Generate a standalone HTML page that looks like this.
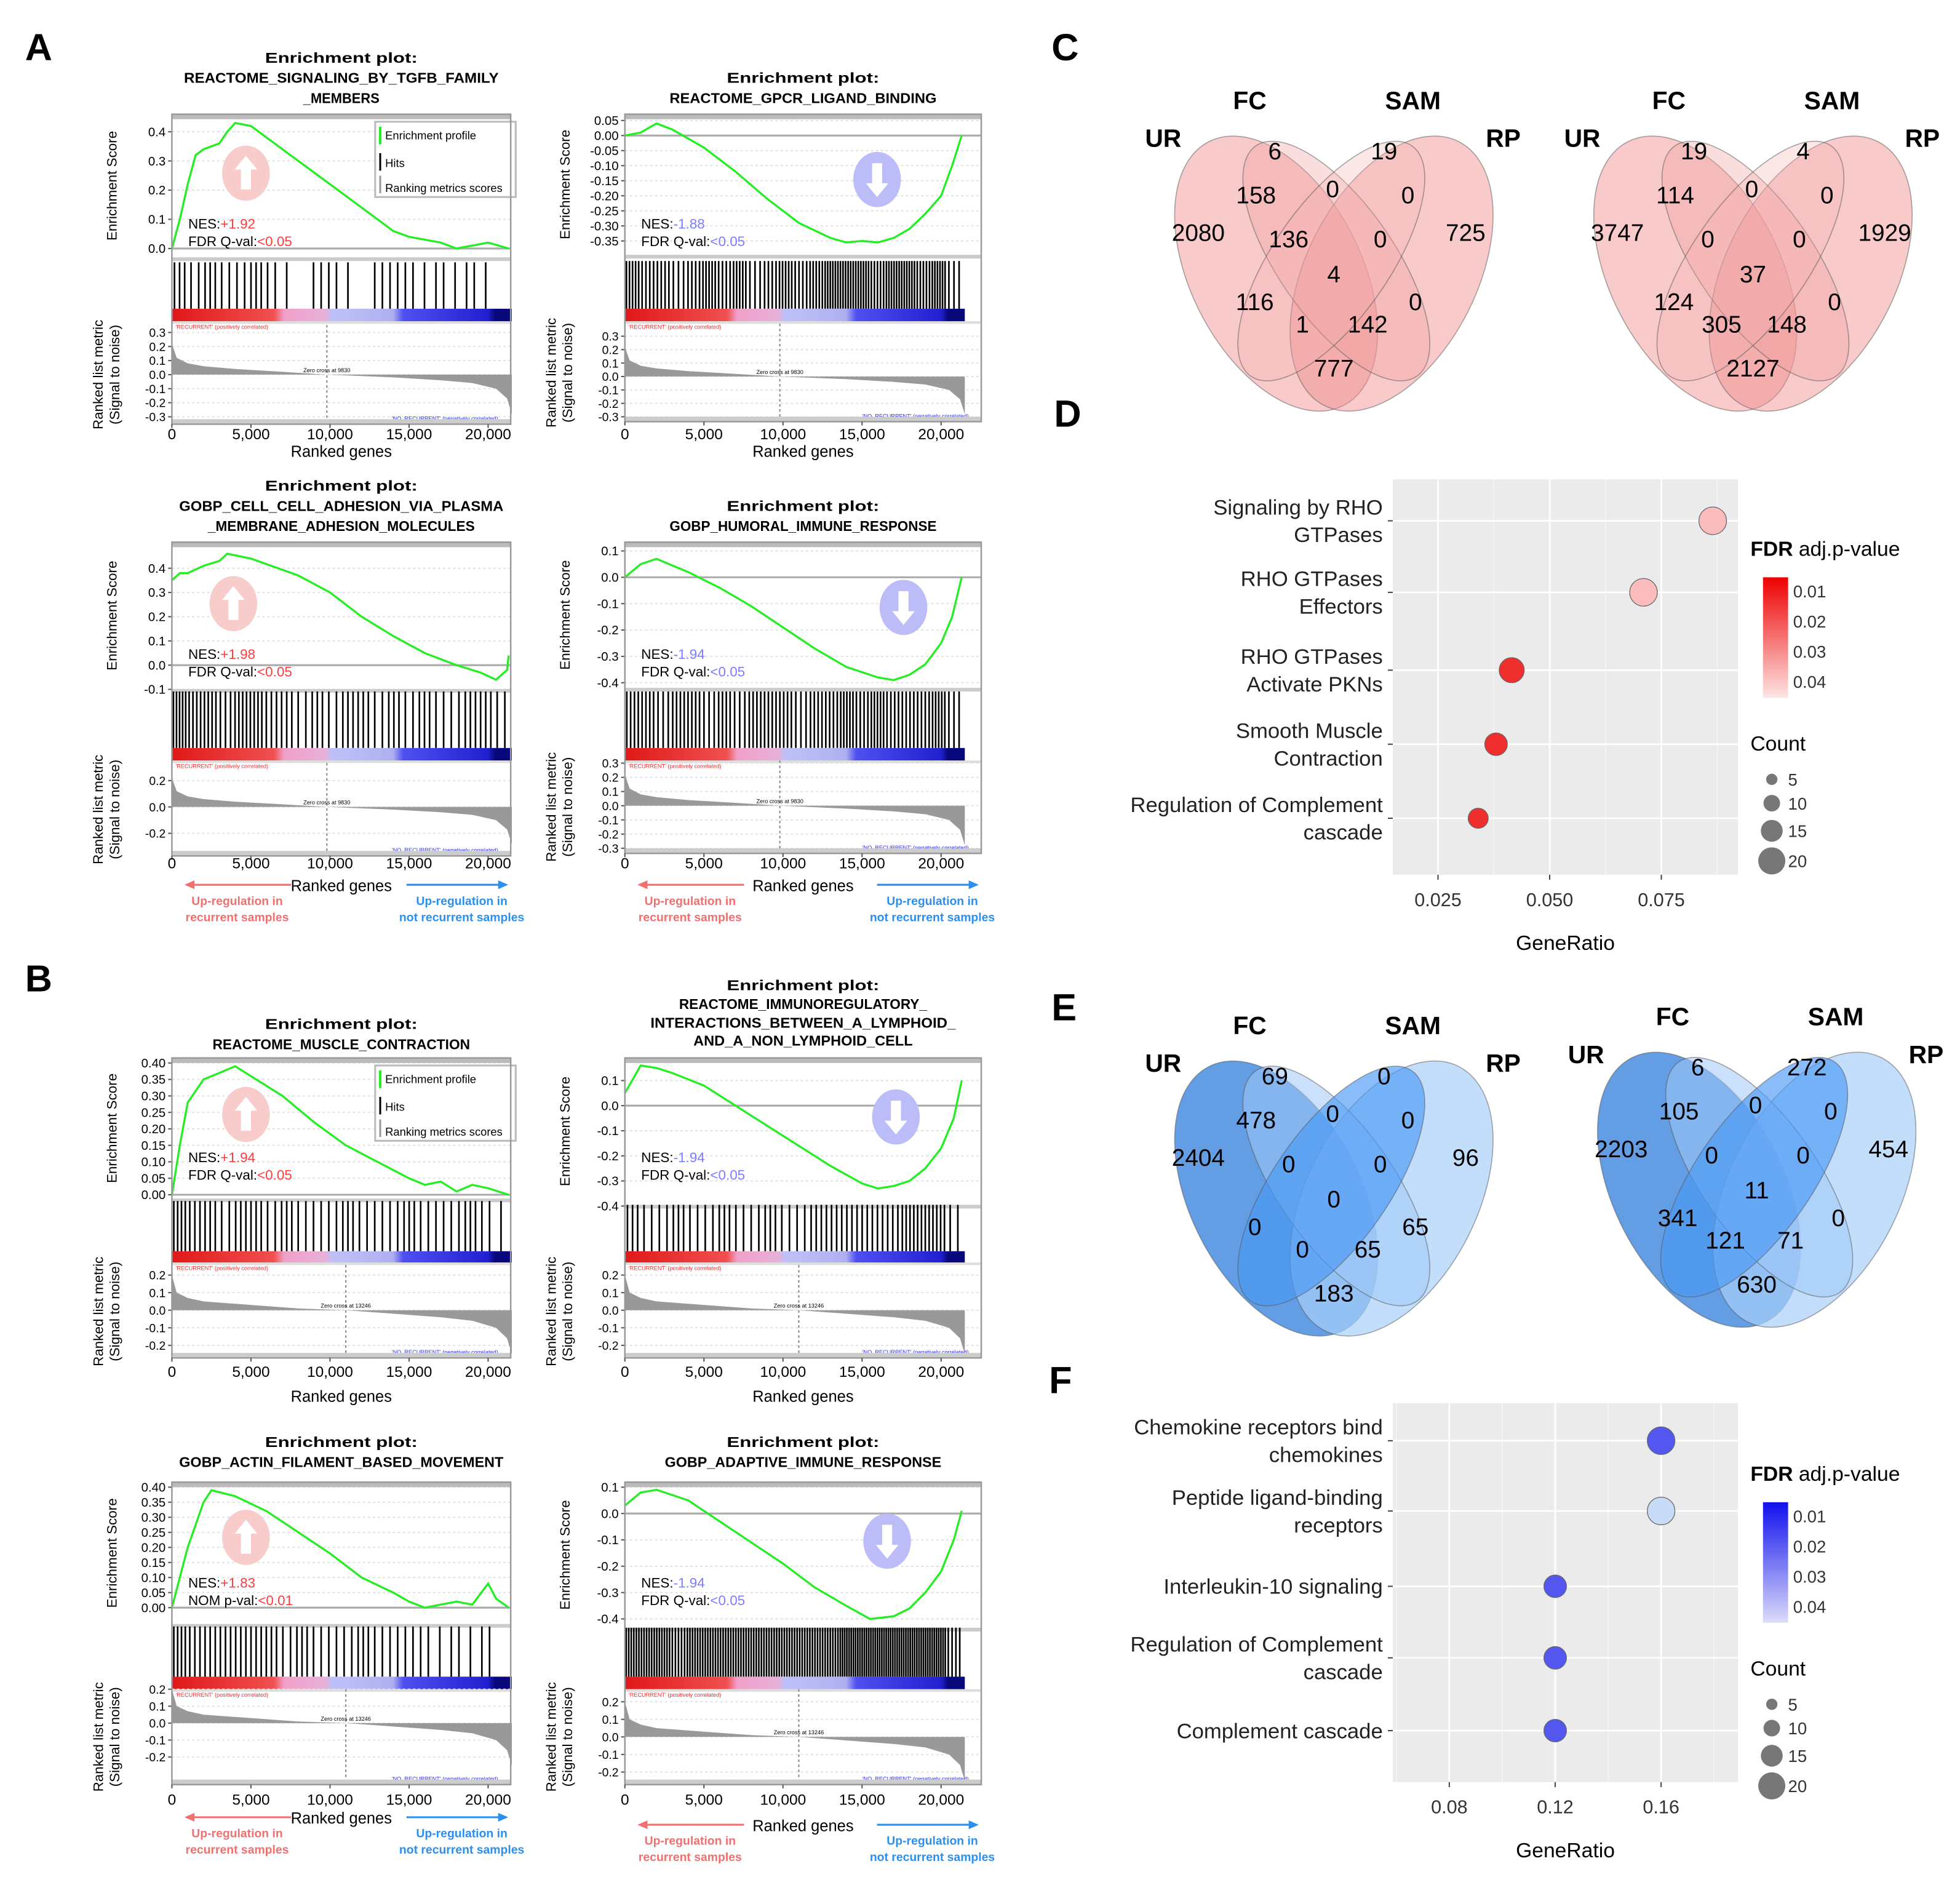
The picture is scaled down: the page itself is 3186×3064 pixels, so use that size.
<!DOCTYPE html>
<html><head><meta charset="utf-8"><style>
html,body{margin:0;padding:0;background:#fff;}
svg{display:block;font-family:"Liberation Sans",sans-serif;}
</style></head><body>
<svg id="fig" xmlns="http://www.w3.org/2000/svg" width="3186" height="3064" viewBox="0 0 1562 1502" preserveAspectRatio="none">
<defs>
<linearGradient id="cbar" x1="0" x2="1" y1="0" y2="0">
<stop offset="0" stop-color="#e01818"/><stop offset="0.3" stop-color="#f05050"/><stop offset="0.33" stop-color="#f0a0c8"/><stop offset="0.45" stop-color="#e8b0d8"/><stop offset="0.47" stop-color="#c0c0f8"/><stop offset="0.65" stop-color="#b0b0f0"/><stop offset="0.68" stop-color="#5050f0"/><stop offset="0.93" stop-color="#2020d0"/><stop offset="0.95" stop-color="#08087a"/><stop offset="1" stop-color="#08087a"/>
</linearGradient>
<linearGradient id="redleg" x1="0" x2="0" y1="0" y2="1"><stop offset="0" stop-color="#ee0000"/><stop offset="1" stop-color="#fde4e4"/></linearGradient>
<linearGradient id="blueleg" x1="0" x2="0" y1="0" y2="1"><stop offset="0" stop-color="#1010ee"/><stop offset="1" stop-color="#dcdcfa"/></linearGradient>
</defs>
<g font-weight="bold" font-size="30">
<text x="20" y="48">A</text>
<text x="20" y="790">B</text>
<text x="838" y="48">C</text>
<text x="840" y="340">D</text>
<text x="838" y="813">E</text>
<text x="836" y="1110">F</text>
</g>
<g id="venns"></g>
</svg>
<script>
const NS='http://www.w3.org/2000/svg';
const svg=document.getElementById('fig');
function mk(tag,attrs,parent,text){const e=document.createElementNS(NS,tag);for(const k in attrs)e.setAttribute(k,attrs[k]);if(text!==undefined)e.textContent=text;(parent||svg).appendChild(e);return e;}

/* ---------- GSEA data ---------- */
const esA1=[[0,0],[0.5,0.1],[1,0.22],[1.5,0.32],[2,0.34],[3,0.36],[3.5,0.4],[4,0.43],[5,0.42],[6,0.38],[8,0.3],[10,0.22],[12,0.14],[14,0.06],[15,0.04],[16,0.03],[17,0.02],[18,0.0],[19,0.01],[20,0.02],[21.3,0.0]];
const esA2=[[0,0],[1,0.01],[2,0.04],[3,0.02],[5,-0.04],[7,-0.12],[9,-0.21],[11,-0.29],[13,-0.34],[14,-0.355],[15,-0.35],[16,-0.355],[17,-0.34],[18,-0.31],[19,-0.26],[20,-0.2],[20.7,-0.1],[21.3,0.0]];
const esA3=[[0,0.35],[0.5,0.38],[1,0.38],[2,0.41],[3,0.43],[3.5,0.46],[5,0.44],[8,0.37],[10,0.3],[12,0.2],[14,0.12],[16,0.05],[18,0.0],[19.5,-0.03],[20.5,-0.06],[21.2,-0.02],[21.3,0.04]];
const esA4=[[0,0],[1,0.05],[2,0.07],[4,0.02],[6,-0.04],[8,-0.11],[10,-0.19],[12,-0.27],[14,-0.34],[16,-0.38],[17,-0.39],[18,-0.37],[19,-0.33],[20,-0.25],[20.7,-0.15],[21.3,0.0]];
const esB1=[[0,0],[0.5,0.15],[1,0.28],[2,0.35],[3,0.37],[4,0.39],[5,0.36],[7,0.3],[9,0.22],[11,0.15],[13,0.1],[15,0.05],[16,0.03],[17,0.04],[18,0.01],[19,0.03],[20,0.02],[21.3,0.0]];
const esB2=[[0,0.05],[1,0.16],[2,0.15],[3,0.13],[5,0.08],[7,0.0],[9,-0.08],[11,-0.16],[13,-0.24],[15,-0.31],[16,-0.33],[17,-0.32],[18,-0.3],[19,-0.25],[20,-0.17],[20.8,-0.05],[21.3,0.1]];
const esB3=[[0,0.0],[1,0.2],[2,0.35],[2.5,0.39],[4,0.37],[6,0.32],[8,0.25],[10,0.18],[12,0.1],[14,0.05],[15,0.02],[16,0.0],[17,0.01],[18,0.02],[19,0.01],[20,0.08],[20.5,0.03],[21.3,0.0]];
const esB4=[[0,0.03],[1,0.08],[2,0.09],[4,0.05],[6,-0.03],[8,-0.11],[10,-0.19],[12,-0.28],[14,-0.35],[15.5,-0.4],[17,-0.39],[18,-0.36],[19,-0.3],[20,-0.22],[20.8,-0.1],[21.3,0.01]];
const hitsA1=[3,2,3,2,2,3,2,1,0,2,2,1,0,2,2,2,1,2,1,2,1,0];
const hitsA2=[5,4,4,3,4,5,4,5,3,4,5,4,5,6,6,6,5,6,6,5,6,3];
const hitsA3=[5,4,4,3,4,4,3,3,2,3,2,3,3,2,3,2,3,2,2,3,3,2];
const hitsA4=[4,4,3,4,4,3,4,3,4,4,4,3,4,4,5,4,5,4,4,4,5,3];
const hitsB1=[4,3,3,2,3,3,2,3,2,2,2,3,2,2,2,3,2,2,2,3,2,1];
const hitsB2=[3,2,2,3,2,2,3,2,2,3,2,2,3,3,3,3,3,3,4,4,4,2];
const hitsB3=[4,3,3,3,3,3,3,2,3,2,2,2,3,2,2,2,2,1,2,1,2,0];
const hitsB4=[6,6,6,5,6,6,6,6,6,6,6,6,6,6,7,7,7,7,7,7,7,4];
const metricA=[[0,0.22],[0.3,0.12],[1,0.08],[2,0.06],[4,0.04],[7,0.02],[9.8,0],[14,-0.02],[17,-0.04],[19,-0.06],[20.5,-0.1],[21.2,-0.17],[21.5,-0.28]];
const metricB=[[0,0.2],[0.3,0.1],[1,0.07],[2,0.05],[5,0.03],[8,0.01],[11,0],[14,-0.02],[17,-0.04],[19,-0.06],[20.5,-0.1],[21.2,-0.16],[21.5,-0.25]];
const xTickVals=[0,5000,10000,15000,20000];
const xTickLabels=['0','5,000','10,000','15,000','20,000'];
const PX=12.6;

const plots=[
 {id:'a1',x0:137,x1:407,esTop:91,esBot:205,esZ:198,esPer:232.5,esT:[0,0.1,0.2,0.3,0.4],dec:1,es:esA1,hits:hitsA1,hT:209,hB:246,cT:246,cB:256,mT:259,mB:338,mZ:298.5,mPer:112,mTk:[0.3,0.2,0.1,0,-0.1,-0.2,-0.3],metric:metricA,zc:9.8,zcTxt:'Zero cross at 9830',xt:350,xl:364,titles:['Enrichment plot:','REACTOME_SIGNALING_BY_TGFB_FAMILY','_MEMBERS'],ty:[50,66,82],up:true,ax:196,ay:138,nes:'+1.92',ql:'FDR Q-val:',q:'<0.05',ny:182,legend:true,dir:false},
 {id:'a2',x0:498,x1:782,esTop:91,esBot:203,esZ:108,esPer:240,esT:[0.05,0,-0.05,-0.1,-0.15,-0.2,-0.25,-0.3,-0.35],dec:2,es:esA2,hits:hitsA2,hT:208,hB:246,cT:246,cB:256,mT:258,mB:336,mZ:300,mPer:107,mTk:[0.3,0.2,0.1,0,-0.1,-0.2,-0.3],metric:metricA,zc:9.8,zcTxt:'Zero cross at 9830',xt:350,xl:364,titles:['Enrichment plot:','REACTOME_GPCR_LIGAND_BINDING'],ty:[66,82],up:false,ax:699,ay:143,nes:'-1.88',ql:'FDR Q-val:',q:'<0.05',ny:182,legend:false,dir:false},
 {id:'a3',x0:137,x1:407,esTop:432,esBot:549,esZ:530,esPer:193,esT:[0.4,0.3,0.2,0.1,0,-0.1],dec:1,es:esA3,hits:hitsA3,hT:551,hB:596,cT:596,cB:606,mT:608,mB:682,mZ:643,mPer:105,mTk:[0.2,0,-0.2],metric:metricA,zc:9.8,zcTxt:'Zero cross at 9830',xt:692,xl:710,titles:['Enrichment plot:','GOBP_CELL_CELL_ADHESION_VIA_PLASMA','_MEMBRANE_ADHESION_MOLECULES'],ty:[391,407,423],up:true,ax:186,ay:481,nes:'+1.98',ql:'FDR Q-val:',q:'<0.05',ny:525,legend:false,dir:true},
 {id:'a4',x0:498,x1:782,esTop:432,esBot:548,esZ:460,esPer:210,esT:[0.1,0,-0.1,-0.2,-0.3,-0.4],dec:1,es:esA4,hits:hitsA4,hT:551,hB:596,cT:596,cB:606,mT:606,mB:680,mZ:642,mPer:113,mTk:[0.3,0.2,0.1,0,-0.1,-0.2,-0.3],metric:metricA,zc:9.8,zcTxt:'Zero cross at 9830',xt:692,xl:710,titles:['Enrichment plot:','GOBP_HUMORAL_IMMUNE_RESPONSE'],ty:[407,423],up:false,ax:720,ay:484,nes:'-1.94',ql:'FDR Q-val:',q:'<0.05',ny:525,legend:false,dir:true},
 {id:'b1',x0:137,x1:407,esTop:843,esBot:955,esZ:952,esPer:262.5,esT:[0,0.05,0.1,0.15,0.2,0.25,0.3,0.35,0.4],dec:2,es:esB1,hits:hitsB1,hT:957,hB:997,cT:997,cB:1006,mT:1008,mB:1082,mZ:1044,mPer:140,mTk:[0.2,0.1,0,-0.1,-0.2],metric:metricB,zc:11,zcTxt:'Zero cross at 13246',xt:1097,xl:1117,titles:['Enrichment plot:','REACTOME_MUSCLE_CONTRACTION'],ty:[820,836],up:true,ax:196,ay:888,nes:'+1.94',ql:'FDR Q-val:',q:'<0.05',ny:926,legend:true,dir:false},
 {id:'b2',x0:498,x1:782,esTop:843,esBot:960,esZ:881,esPer:200,esT:[0.1,0,-0.1,-0.2,-0.3,-0.4],dec:1,es:esB2,hits:hitsB2,hT:960,hB:997,cT:997,cB:1006,mT:1008,mB:1082,mZ:1044,mPer:140,mTk:[0.2,0.1,0,-0.1,-0.2],metric:metricB,zc:11,zcTxt:'Zero cross at 13246',xt:1097,xl:1117,titles:['Enrichment plot:','REACTOME_IMMUNOREGULATORY_','INTERACTIONS_BETWEEN_A_LYMPHOID_','AND_A_NON_LYMPHOID_CELL'],ty:[789,804,819,833],up:false,ax:714,ay:890,nes:'-1.94',ql:'FDR Q-val:',q:'<0.05',ny:926,legend:false,dir:false},
 {id:'b3',x0:137,x1:407,esTop:1181,esBot:1294,esZ:1281,esPer:240,esT:[0,0.05,0.1,0.15,0.2,0.25,0.3,0.35,0.4],dec:2,es:esB3,hits:hitsB3,hT:1296,hB:1336,cT:1336,cB:1346,mT:1346,mB:1422,mZ:1373,mPer:135,mTk:[0.2,0.1,0,-0.1,-0.2],metric:metricB,zc:11,zcTxt:'Zero cross at 13246',xt:1438,xl:1453,titles:['Enrichment plot:','GOBP_ACTIN_FILAMENT_BASED_MOVEMENT'],ty:[1153,1169],up:true,ax:196,ay:1225,nes:'+1.83',ql:'NOM p-val:',q:'<0.01',ny:1265,legend:false,dir:true},
 {id:'b4',x0:498,x1:782,esTop:1181,esBot:1297,esZ:1206,esPer:210,esT:[0.1,0,-0.1,-0.2,-0.3,-0.4],dec:1,es:esB4,hits:hitsB4,hT:1297,hB:1336,cT:1336,cB:1346,mT:1346,mB:1422,mZ:1384,mPer:140,mTk:[0.2,0.1,0,-0.1,-0.2],metric:metricB,zc:11,zcTxt:'Zero cross at 13246',xt:1438,xl:1459,titles:['Enrichment plot:','GOBP_ADAPTIVE_IMMUNE_RESPONSE'],ty:[1153,1169],up:false,ax:707,ay:1228,nes:'-1.94',ql:'FDR Q-val:',q:'<0.05',ny:1265,legend:false,dir:true}
];

function drawGsea(p){
 const g=mk('g',{});
 
 
 const X=k=>p.x0+k*PX;
 const YE=v=>p.esZ-v*p.esPer;
 const YM=v=>p.mZ-v*p.mPer;
 const cx=(p.x0+p.x1)/2;
 p.titles.forEach((t,i)=>{
  const tt=mk('text',{x:cx,y:p.ty[i],'text-anchor':'middle','font-size':11.5,'font-weight':'bold',textLength:Math.min(t.length*7.6,280),lengthAdjust:'spacingAndGlyphs'},g,t);
  
  
 });
 p.esT.forEach(v=>{
  const y=YE(v);
  const gl=mk('line',{x1:p.x0,x2:p.x1,y1:y,y2:y,stroke:v===0?'#aaa':'#e2e2e2','stroke-width':v===0?1.5:1,'stroke-dasharray':v===0?'':'2,2'},g);
  
  
  const tk=mk('line',{x1:p.x0-3,x2:p.x0,y1:y,y2:y,stroke:'#555'},g);
  
  
  const tl=mk('text',{x:p.x0-5,y:y+3.5,'text-anchor':'end','font-size':10},g,v.toFixed(p.dec));
  
  
 });
 const band=mk('rect',{x:p.x0,y:p.esTop,width:p.x1-p.x0,height:4,fill:'#bbb'},g);
 
 
 const ab=mk('g',{},g);
 
 
 mk('ellipse',{cx:p.ax,cy:p.ay,rx:19,ry:22,fill:p.up?'#f9cccc':'#bcbcf8'},ab);
 const s=p.up?1:-1;
 mk('polygon',{points:`${p.ax},${p.ay-14*s} ${p.ax+9},${p.ay-3*s} ${p.ax+4},${p.ay-3*s} ${p.ax+4},${p.ay+13*s} ${p.ax-4},${p.ay+13*s} ${p.ax-4},${p.ay-3*s} ${p.ax-9},${p.ay-3*s}`,fill:'#fff'},ab);
 const pts=p.es.map(d=>X(d[0]).toFixed(1)+','+YE(d[1]).toFixed(1)).join(' ');
 const cv=mk('polyline',{points:pts,fill:'none',stroke:'#22ee22','stroke-width':1.6},g);
 
 
 const col=p.up?'#ff3c3c':'#7d7dff';
 const n1=mk('text',{x:p.x0+13,y:p.ny,'font-size':11},g);
 
 
 mk('tspan',{},n1,'NES:');mk('tspan',{fill:col},n1,p.nes);
 const n2=mk('text',{x:p.x0+13,y:p.ny+14,'font-size':11},g);
 
 
 mk('tspan',{},n2,p.ql);mk('tspan',{fill:col},n2,p.q);
 if(p.legend){
  const lg=mk('g',{},g);
  
  
  const lx=p.x1-108,ly=p.esTop+6;
  mk('rect',{x:lx,y:ly,width:112,height:60,fill:'#fff',stroke:'#bbb','stroke-width':1.5},lg);
  mk('line',{x1:lx+4,x2:lx+4,y1:ly+4,y2:ly+18,stroke:'#22ee22','stroke-width':2},lg);
  mk('text',{x:lx+8,y:ly+14,'font-size':9},lg,'Enrichment profile');
  mk('line',{x1:lx+4,x2:lx+4,y1:ly+25,y2:ly+39,stroke:'#000','stroke-width':1.5},lg);
  mk('text',{x:lx+8,y:ly+36,'font-size':9},lg,'Hits');
  mk('line',{x1:lx+4,x2:lx+4,y1:ly+43,y2:ly+57,stroke:'#999','stroke-width':1.5},lg);
  mk('text',{x:lx+8,y:ly+56,'font-size':9},lg,'Ranking metrics scores');
 }
 const sep=mk('rect',{x:p.x0,y:p.esBot,width:p.x1-p.x0,height:3,fill:'#ccc'},g);
 
 
 const hg=mk('g',{stroke:'#000','stroke-width':1.3},g);
 
 
 const nb=p.hits.length;
 p.hits.forEach((n,i)=>{
  for(let j=0;j<n;j++){const k=(i+(j+0.5)/n)*21.3/nb;const x=X(k);mk('line',{x1:x,x2:x,y1:p.hT,y2:p.cT},hg);}
 });
 const cb=mk('rect',{x:p.x0,y:p.cT,width:21.5*PX,height:p.cB-p.cT,fill:'url(#cbar)'},g);
 
 
 const sep2=mk('rect',{x:p.x0,y:p.cB,width:p.x1-p.x0,height:2,fill:'#ddd'},g);
 
 
 const rtx=mk('text',{x:p.x0+3,y:p.cB+6,'font-size':4.5,fill:'#ee3030'},g,"'RECURRENT' (positively correlated)");
 
 
 p.mTk.forEach(v=>{
  const y=YM(v);
  const gl=mk('line',{x1:p.x0,x2:p.x1,y1:y,y2:y,stroke:'#e4e4e4','stroke-dasharray':'2,2'},g);
  
  
  const tl=mk('text',{x:p.x0-5,y:y+3.5,'text-anchor':'end','font-size':9.5},g,v.toFixed(1));
  
  
  mk('line',{x1:p.x0-3,x2:p.x0,y1:y,y2:y,stroke:'#555'},g);
 });
 let mp=X(0)+','+YM(0)+' '+p.metric.map(d=>X(d[0]).toFixed(1)+','+YM(d[1]).toFixed(1)).join(' ')+' '+X(21.5)+','+YM(0);
 const ma=mk('polygon',{points:mp,fill:'#999'},g);
 
 
 const zl=mk('line',{x1:X(p.zc),x2:X(p.zc),y1:p.mT,y2:p.mB,stroke:'#888','stroke-dasharray':'2,2'},g);
 
 
 const zt=mk('text',{x:X(p.zc),y:YM(0)-2,'text-anchor':'middle','font-size':4.5},g,p.zcTxt);
 
 
 const nt=mk('text',{x:p.x1-10,y:p.mB-3,'text-anchor':'end','font-size':4.5,fill:'#3030ee'},g,"'NO_RECURRENT' (negatively correlated)");
 
 
 const bb=mk('rect',{x:p.x0,y:p.mB-4,width:p.x1-p.x0,height:4,fill:'#ccc'},g);
 
 
 const fr=mk('rect',{x:p.x0,y:p.esTop,width:p.x1-p.x0,height:p.mB-p.esTop,fill:'none',stroke:'#999','stroke-width':1.2},g);
 
 
 xTickVals.forEach((v,i)=>{
  const x=X(v/1000);
  mk('line',{x1:x,x2:x,y1:p.mB,y2:p.mB+3,stroke:'#555'},g);
  const tl=mk('text',{x:x,y:p.xt,'text-anchor':'middle','font-size':12},g,xTickLabels[i]);
  
  
 });
 const xl=mk('text',{x:cx,y:p.xl,'text-anchor':'middle','font-size':12.5},g,'Ranked genes');
 
 
 const ey=(p.esTop+p.esBot)/2, my=(p.mT+p.mB)/2;
 const yl=mk('text',{x:p.x0-44,y:ey,'text-anchor':'middle','font-size':11,transform:`rotate(-90 ${p.x0-44} ${ey})`},g,'Enrichment Score');
 
 
 const ml1=mk('text',{x:p.x0-55,y:my,'text-anchor':'middle','font-size':11,transform:`rotate(-90 ${p.x0-55} ${my})`},g,'Ranked list metric');
 
 
 const ml2=mk('text',{x:p.x0-42,y:my,'text-anchor':'middle','font-size':11,transform:`rotate(-90 ${p.x0-42} ${my})`},g,'(Signal to noise)');
 
 
 if(p.dir){
  const ay=p.xl-5;
  const d=mk('g',{},g);
  
  
  mk('line',{x1:p.x0+14,x2:p.x0+95,y1:ay,y2:ay,stroke:'#f07070','stroke-width':1.5},d);
  mk('polygon',{points:`${p.x0+10},${ay} ${p.x0+18},${ay-3.5} ${p.x0+18},${ay+3.5}`,fill:'#f07070'},d);
  mk('text',{x:p.x0+52,y:ay+16,'text-anchor':'middle','font-size':9.5,'font-weight':'bold',fill:'#f07070'},d,'Up-regulation in');
  mk('text',{x:p.x0+52,y:ay+29,'text-anchor':'middle','font-size':9.5,'font-weight':'bold',fill:'#f07070'},d,'recurrent samples');
  mk('line',{x1:p.x1-83,x2:p.x1-8,y1:ay,y2:ay,stroke:'#2b8ff0','stroke-width':1.5},d);
  mk('polygon',{points:`${p.x1-2},${ay} ${p.x1-10},${ay-3.5} ${p.x1-10},${ay+3.5}`,fill:'#2b8ff0'},d);
  mk('text',{x:p.x1-39,y:ay+16,'text-anchor':'middle','font-size':9.5,'font-weight':'bold',fill:'#2b8ff0'},d,'Up-regulation in');
  mk('text',{x:p.x1-39,y:ay+29,'text-anchor':'middle','font-size':9.5,'font-weight':'bold',fill:'#2b8ff0'},d,'not recurrent samples');
 }
}
plots.forEach(drawGsea);

/* ---------- Venn diagrams ---------- */
const vennC1=['6','19','158','0','0','2080','136','0','725','4','116','0','1','142','777'];
const vennC2=['19','4','114','0','0','3747','0','0','1929','37','124','0','305','148','2127'];
const vennE1=['69','0','478','0','0','2404','0','0','96','0','0','65','0','65','183'];
const vennE2=['6','272','105','0','0','2203','0','0','454','11','341','0','121','71','630'];
const vennLabels=['UR','FC','SAM','RP'];
const regionOffsets=[[-47,-98],[40,-98],[-62,-63],[-1,-68],[59,-63],[-108,-33],[-36,-28],[37,-28],[105,-33],[0,0],[-63,22],[65,22],[-25,40],[27,40],[0,75]];
function drawVenn(cx,cy,vals,fills,ops,name){
 const vg=mk('g',{},document.getElementById('venns'));
 
 
 const ell=[[-46,0,118,68,63],[46,0,118,68,-63],[2,-10,112,46,55],[-2,-10,112,46,-55]];
 const idx=[0,3,1,2];
 ell.forEach((e,j)=>{
  const i=idx[j];
  const el=mk('ellipse',{cx:cx+e[0],cy:cy+e[1],rx:e[2],ry:e[3],transform:`rotate(${e[4]} ${cx+e[0]} ${cy+e[1]})`,fill:fills[i],'fill-opacity':ops[i],stroke:'#555','stroke-opacity':0.5,'stroke-width':0.8},vg);
  
  
 });
 vals.forEach((v,i)=>{
  const t=mk('text',{x:cx+regionOffsets[i][0],y:cy+regionOffsets[i][1]+7,'text-anchor':'middle','font-size':19},vg,v);
  
  
 });
 const lp=[[-136,-101],[-67,-131],[63,-131],[135,-101]];
 lp.forEach((l,i)=>{
  const t=mk('text',{x:cx+l[0],y:cy+l[1],'text-anchor':'middle','font-size':20,'font-weight':'bold'},vg,vennLabels[i]);
  
  
 });
}
const pink=['#f08a8a','#f2a0a0','#f4b0b0','#f08a8a'];
const pinkOp=[0.45,0.35,0.3,0.45];
const blues=['#3c84dc','#a0c8f8','#4a98f4','#a8d0fa'];
const blueOp=[0.8,0.55,0.65,0.7];
drawVenn(1063,218,vennC1,pink,pinkOp,'venn-c-left');
drawVenn(1397,218,vennC2,pink,pinkOp,'venn-c-right');
drawVenn(1063,955,vennE1,blues,blueOp,'venn-e-left');
drawVenn(1400,948,vennE2,blues,blueOp,'venn-e-right');

/* ---------- Dot plots ---------- */
const dLabels=[['Signaling by RHO','GTPases'],['RHO GTPases','Effectors'],['RHO GTPases','Activate PKNs'],['Smooth Muscle','Contraction'],['Regulation of Complement','cascade']];
const dRatio=[0.0865,0.071,0.0415,0.038,0.034];
const dCount=[11,11,10,9,8];
const dFdr=[0.036,0.036,0.004,0.004,0.004];
const dTicks=[0.025,0.05,0.075];
const dTickLabels=['0.025','0.050','0.075'];
const fLabels=[['Chemokine receptors bind','chemokines'],['Peptide ligand-binding','receptors'],['Interleukin-10 signaling'],['Regulation of Complement','cascade'],['Complement cascade']];
const fRatio=[0.16,0.16,0.12,0.12,0.12];
const fCount=[11,11,9,9,9];
const fFdr=[0.008,0.045,0.008,0.008,0.008];
const fTicks=[0.08,0.12,0.16];
const fTickLabels=['0.08','0.12','0.16'];
const legCounts=[5,10,15,20];
const legFdr=['0.01','0.02','0.03','0.04'];

function drawDot(o){
 const g=mk('g',{});
 
 
 const X=v=>o.px0+(v-o.v0)*o.per;
 const bg=mk('rect',{x:o.x0,y:o.y0,width:o.x1-o.x0,height:o.y1-o.y0,fill:'#ebebeb'},g);
 
 
 for(let i=0;i<o.ticks.length;i++){
  const x=X(o.ticks[i]);
  const gl=mk('line',{x1:x,x2:x,y1:o.y0,y2:o.y1,stroke:'#fff','stroke-width':1.3},g);
  
  
  const step=(o.ticks[1]-o.ticks[0])/2;
  [o.ticks[i]-step,o.ticks[i]+step].forEach(m=>{const xm=X(m);if(xm>o.x0&&xm<o.x1)mk('line',{x1:xm,x2:xm,y1:o.y0,y2:o.y1,stroke:'#f6f6f6','stroke-width':0.7},g);});
  mk('line',{x1:x,x2:x,y1:o.y1,y2:o.y1+4,stroke:'#444'},g);
  const tl=mk('text',{x:x,y:o.y1+25,'text-anchor':'middle','font-size':15,fill:'#333'},g,o.tickLabels[i]);
  
  
 }
 const xt=mk('text',{x:(o.x0+o.x1)/2,y:o.y1+60,'text-anchor':'middle','font-size':16.5},g,'GeneRatio');
 
 
 o.labels.forEach((lab,i)=>{
  const y=o.rowY[i];
  mk('line',{x1:o.x0,x2:o.x1,y1:y,y2:y,stroke:'#fff','stroke-width':1.3},g);
  mk('line',{x1:o.x0-4,x2:o.x0,y1:y,y2:y,stroke:'#444'},g);
  lab.forEach((ln,j)=>{
   const yy=lab.length===1?y+6:y-5+j*22;
   const t=mk('text',{x:o.x0-8,y:yy,'text-anchor':'end','font-size':17,fill:'#222'},g,ln);
   
   
  });
 });
 o.ratio.forEach((r,i)=>{
  const c=mk('circle',{cx:X(r),cy:o.rowY[i],r:o.count[i],fill:o.color(o.fdr[i]),stroke:'#666','stroke-width':0.6},g);
  
  
 });
 const lx=o.x1+10;
 const ft=mk('text',{x:lx,y:o.legY,'font-size':16.5},g);
 
 
 mk('tspan',{'font-weight':'bold'},ft,'FDR');mk('tspan',{},ft,' adj.p-value');
 const cbar=mk('rect',{x:lx+10,y:o.legY+17,width:20,height:96,fill:o.grad},g);
 
 
 legFdr.forEach((t,i)=>{
  const tl=mk('text',{x:lx+34,y:o.legY+33+i*24,'font-size':13.5,fill:'#333'},g,t);
  
  
 });
 const ct=mk('text',{x:lx,y:o.legY+155,'font-size':16.5},g,'Count');
 
 
 const cy0=[o.legY+178,o.legY+197,o.legY+219,o.legY+243];
 legCounts.forEach((n,i)=>{
  const c=mk('circle',{cx:lx+17,cy:cy0[i],r:4.5+i*2.1,fill:'#777'},g);
  
  
  const t=mk('text',{x:lx+30,y:cy0[i]+5,'font-size':13.5,fill:'#333'},g,String(n));
  
  
 });
}
function mixColor(a,b,t){const h=s=>[1,3,5].map(i=>parseInt(s.substr(i,2),16));const A=h(a),B=h(b);return 'rgb('+A.map((v,i)=>Math.round(v+(B[i]-v)*t)).join(',')+')';}
drawDot({name:'dotplot-d',x0:1110,x1:1385,y0:382,y1:697,px0:1146,v0:0.025,per:3560,ticks:dTicks,tickLabels:dTickLabels,labels:dLabels,rowY:[415,472,534,593,652],ratio:dRatio,count:dCount,fdr:dFdr,color:f=>mixColor('#ee1c1c','#fde4e4',Math.min(1,f/0.045)),grad:'url(#redleg)',legY:443});
drawDot({name:'dotplot-f',x0:1110,x1:1385,y0:1118,y1:1420,px0:1155,v0:0.08,per:2110,ticks:fTicks,tickLabels:fTickLabels,labels:fLabels,rowY:[1148,1204,1264,1321,1379],ratio:fRatio,count:fCount,fdr:fFdr,color:f=>mixColor('#3a3aee','#c8dcf8',Math.min(1,f/0.045)),grad:'url(#blueleg)',legY:1180});
</script>
</body></html>
